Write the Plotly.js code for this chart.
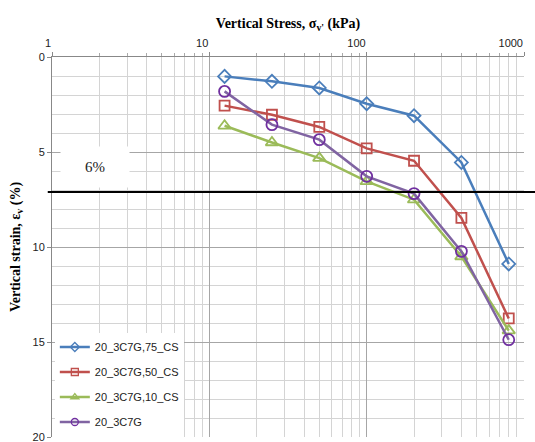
<!DOCTYPE html>
<html><head><meta charset="utf-8">
<script src="https://cdn.plot.ly/plotly-3.0.1.min.js"></script>
<style>html,body{margin:0;padding:0;background:#fff;}#chart{width:535px;height:442px;}</style>
</head><body><div id="chart"></div>
<script>
const stress = [12.5, 25, 50, 100, 200, 400, 800];
const s75 = [1.02, 1.28, 1.63, 2.46, 3.09, 5.55, 10.89];
const s50 = [2.56, 3.04, 3.68, 4.81, 5.46, 8.47, 13.76];
const s10 = [3.62, 4.5, 5.32, 6.55, 7.51, 10.5, 14.4];
const s0 = [1.81, 3.56, 4.35, 6.28, 7.19, 10.23, 14.88];
const names = ['20_3C7G,75_CS', '20_3C7G,50_CS', '20_3C7G,10_CS', '20_3C7G'];
const xTickVals = [1, 10, 100, 1000];
const xTickText = ['1', '10', '100', '1000'];
const xMinor = [2,3,4,5,6,7,8,9,20,30,40,50,60,70,80,90,200,300,400,500,600,700,800,900];
const yTickVals = [0, 5, 10, 15, 20];
const limitStrain = 7.1;
const limitLabel = '6%';

const series = [
  {y: s75, color: '#4A7EBB', mcolor: '#4A7EBB', symbol: 'diamond-open', size: 10},
  {y: s50, color: '#C0504D', mcolor: '#C0504D', symbol: 'square-open', size: 10},
  {y: s10, color: '#9BBB59', mcolor: '#9BBB59', symbol: 'triangle-up-open', size: 11},
  {y: s0, color: '#8064A2', mcolor: '#7030A0', symbol: 'circle-open', size: 11}
];
const traces = series.map((s, i) => ({
  x: stress, y: s.y, name: names[i], type: 'scatter', mode: 'lines+markers',
  showlegend: false,
  line: {color: s.color, width: 2.5},
  marker: {symbol: s.symbol, size: s.size, color: s.mcolor, line: {width: 1.8, color: s.mcolor}}
}));
// legend-only entries with smaller symbols, as in the reference legend
series.forEach((s, i) => traces.push({
  x: [null], y: [null], name: names[i], type: 'scatter', mode: 'lines+markers',
  legendgroup: 'g' + i, showlegend: true,
  line: {color: s.color, width: 2.5},
  marker: {symbol: s.symbol, size: 7, color: s.mcolor, line: {width: 1.3, color: s.mcolor}}
}));

const tickFont = {family: 'Liberation Sans, Arial', size: 11, color: '#222'};
const layout = {
  width: 535, height: 442,
  margin: {l: 52, r: 11, t: 57, b: 5},
  paper_bgcolor: '#fff', plot_bgcolor: '#fff',
  showlegend: true,
  legend: {x: 0.006, y: 0.275, xanchor: 'left', yanchor: 'top', bgcolor: '#fff',
    font: {family: 'Liberation Sans, Arial', size: 11, color: '#222'}, tracegroupgap: 6, itemwidth: 30},
  xaxis: {type: 'log', side: 'top', range: [0, 3], tickvals: xTickVals, ticktext: xTickText,
    ticklabelposition: 'outside left', ticklabeloverflow: 'allow', ticklabelstandoff: 5,
    showgrid: true, gridcolor: '#a6a6a6', gridwidth: 1, linecolor: '#888', showline: true,
    ticks: 'outside', ticklen: 4, tickcolor: '#888',
    tickfont: tickFont,
    minor: {tickvals: xMinor, showgrid: true, gridcolor: '#d4d4d4', ticks: 'outside', ticklen: 3, tickcolor: '#aaa'},
    title: {text: "Vertical Stress, σ<sub>v'</sub> (kPa)", standoff: 4,
      font: {family: 'Liberation Serif, Times New Roman', size: 14, color: '#000', weight: 'bold'}},
    zeroline: false},
  yaxis: {range: [20, 0], tickvals: yTickVals, ticklabeloverflow: 'allow',
    showgrid: true, gridcolor: '#a6a6a6', gridwidth: 1, linecolor: '#888', showline: true,
    ticks: 'outside', ticklen: 4, tickcolor: '#888',
    tickfont: tickFont,
    minor: {dtick: 1, showgrid: true, gridcolor: '#d4d4d4'},
    title: {text: 'Vertical strain, ε<sub>v</sub> (%)', standoff: 8,
      font: {family: 'Liberation Serif, Times New Roman', size: 14, color: '#000', weight: 'bold'}},
    zeroline: false},
  shapes: [{type: 'line', xref: 'paper', yref: 'y', x0: -0.009, x1: 1.03, y0: limitStrain, y1: limitStrain,
    line: {color: '#000', width: 2}}],
  annotations: [{xref: 'paper', yref: 'y', x: 0.091, y: 5.8, xanchor: 'center', yanchor: 'middle',
    text: limitLabel, showarrow: false,
    bgcolor: '#fff', width: 66, height: 38,
    font: {family: 'Liberation Serif, Times New Roman', size: 15, color: '#222'}}]
};
Plotly.newPlot('chart', traces, layout, {displayModeBar: false, staticPlot: true});
</script></body></html>
